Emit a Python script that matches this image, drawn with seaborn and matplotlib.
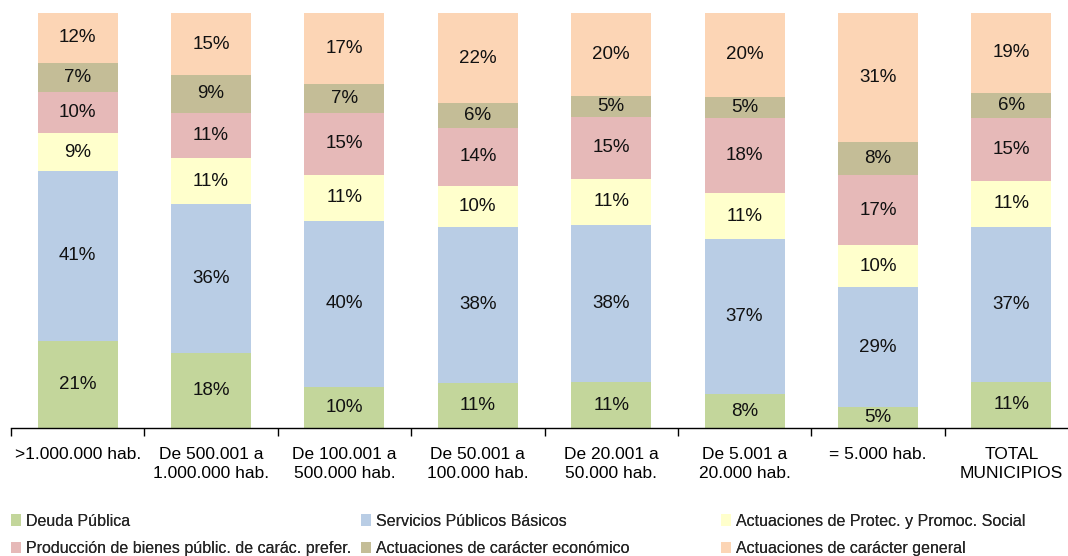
import matplotlib
matplotlib.use("Agg")
import matplotlib.pyplot as plt
from matplotlib.patches import Patch
import numpy as np
import seaborn as sns

categories = [">1.000.000 hab.", "De 500.001 a\n1.000.000 hab.", "De 100.001 a\n500.000 hab.",
              "De 50.001 a\n100.000 hab.", "De 20.001 a\n50.000 hab.", "De 5.001 a\n20.000 hab.",
              "= 5.000 hab.", "TOTAL\nMUNICIPIOS"]
series_names = ["Deuda Pública", "Servicios Públicos Básicos",
                "Actuaciones de Protec. y Promoc. Social",
                "Producción de bienes públic. de carác. prefer.",
                "Actuaciones de carácter económico", "Actuaciones de carácter general"]
deuda = [21, 18, 10, 11, 11, 8, 5, 11]
servicios = [41, 36, 40, 38, 38, 37, 29, 37]
protec = [9, 11, 11, 10, 11, 11, 10, 11]
produccion = [10, 11, 15, 14, 15, 18, 17, 15]
economico = [7, 9, 7, 6, 5, 5, 8, 6]
general = [12, 15, 17, 22, 20, 20, 31, 19]
colors = ["#C3D69B", "#B9CDE5", "#FFFFCC", "#E6B9B8", "#C4BD97", "#FCD5B5"]

sns.set_theme(style="white")
plt.rcParams["font.family"] = ["Liberation Sans", "DejaVu Sans"]

fig = plt.figure(figsize=(10.68, 5.56), dpi=100)
ax = fig.add_axes([11 / 1068, 128 / 556, 1067 / 1068, 415 / 556])

data = np.array([deuda, servicios, protec, produccion, economico, general], dtype=float)
shares = data / data.sum(axis=0) * 100
bottom = np.zeros(len(categories))
for i in range(len(series_names)):
    sns.barplot(x=categories, y=shares[i], bottom=bottom, color=colors[i], width=0.6,
                saturation=1, ax=ax, linewidth=0)
    for j in range(len(categories)):
        ax.text(j, bottom[j] + shares[i][j] / 2, f"{int(data[i][j])}%", ha="center", va="center",
                fontsize=13.5, color="#111111")
    bottom += shares[i]

ax.set_xlim(-0.5, 7.5)
ax.set_ylim(0, 100)
ax.set_yticks([])
for s in ["top", "right", "left"]:
    ax.spines[s].set_visible(False)
ax.spines["bottom"].set_color("#000000")
ax.spines["bottom"].set_linewidth(1)
ax.set_xticks(range(len(categories)))
ax.set_xticklabels(categories, fontsize=12.5, linespacing=1.3)
ax.set_xticks(np.arange(-0.5, 8, 1), minor=True)
ax.tick_params(axis="x", which="major", length=0, pad=14, colors="#000000")
ax.tick_params(axis="x", which="minor", length=6, width=1, color="#000000", direction="out", bottom=True)
ax.set_xlabel("")
ax.set_ylabel("")

handles = [Patch(facecolor=c, edgecolor="none") for c in colors]
cols = [[0, 3], [1, 4], [2, 5]]
xpos = [11, 361, 721]
for col, xp in zip(cols, xpos):
    leg = fig.legend([handles[k] for k in col], [series_names[k] for k in col], ncol=1,
                     loc="center left", bbox_to_anchor=(xp / 1068, 1 - 535 / 556), frameon=False,
                     fontsize=11.5, handlelength=0.6, handleheight=0.7, handletextpad=0.35,
                     labelspacing=0.8, borderaxespad=0, borderpad=0)
    fig.add_artist(leg)

fig.savefig("out.png", dpi=100)
